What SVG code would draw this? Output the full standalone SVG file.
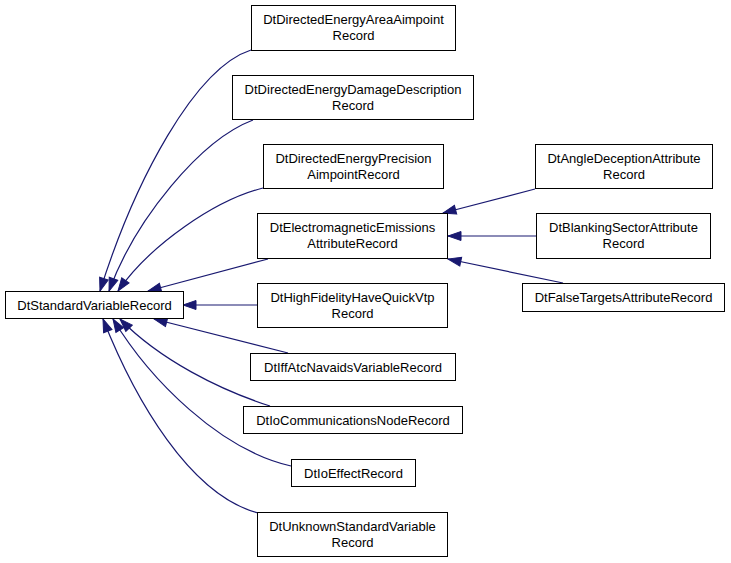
<svg xmlns="http://www.w3.org/2000/svg" width="731" height="563" viewBox="0 0 731 563">
<style>
.node rect{fill:#ffffff;stroke:#000000;stroke-width:1}
.node text{font-family:"Liberation Sans",Arial,Helvetica,sans-serif;font-size:13px;fill:#000000;text-anchor:middle}
.edge{fill:none;stroke:#191970;stroke-width:1.2;marker-end:url(#arr)}
</style>
<defs>
<marker id="arr" markerUnits="userSpaceOnUse" markerWidth="14" markerHeight="10" refX="13" refY="4.5" orient="auto" overflow="visible">
<path d="M0,0 L13,4.5 L0,9 z" fill="#191970" stroke="#191970" stroke-width="1"/>
</marker>
</defs>
<rect width="731" height="563" fill="#ffffff"/>
<g id="connectors">
<path class="edge" d="M251,50 C195,68 135,180 100,291"/>
<path class="edge" d="M253,120 C200,140 135,220 109,291"/>
<path class="edge" d="M263,188 C215,200 150,245 118,291"/>
<path class="edge" d="M268,259 L148,291"/>
<path class="edge" d="M258,305 L183,305"/>
<path class="edge" d="M288,353 L154,319"/>
<path class="edge" d="M270,406 C220,390 160,360 120,319"/>
<path class="edge" d="M291,466 C220,450 150,380 113,319"/>
<path class="edge" d="M258,513 C190,495 135,400 103,319"/>
<path class="edge" d="M535,189 L443,213"/>
<path class="edge" d="M537,236 L448,236"/>
<path class="edge" d="M563,283 L448,259"/>
</g>
<g id="DtStandardVariableRecord" class="node">
<rect x="5.5" y="291.5" width="178" height="27"/>
<text x="94.5" y="310">DtStandardVariableRecord</text>
</g>
<g id="DtDirectedEnergyAreaAimpointRecord" class="node">
<rect x="251.5" y="5.5" width="204" height="45"/>
<text x="353.5" y="24">DtDirectedEnergyAreaAimpoint</text>
<text x="353.5" y="39.5">Record</text>
</g>
<g id="DtDirectedEnergyDamageDescriptionRecord" class="node">
<rect x="232.5" y="75.5" width="241" height="44"/>
<text x="353" y="94">DtDirectedEnergyDamageDescription</text>
<text x="353" y="109.5">Record</text>
</g>
<g id="DtDirectedEnergyPrecisionAimpointRecord" class="node">
<rect x="263.5" y="144.5" width="180" height="44"/>
<text x="353.5" y="163">DtDirectedEnergyPrecision</text>
<text x="353.5" y="178.5">AimpointRecord</text>
</g>
<g id="DtElectromagneticEmissionsAttributeRecord" class="node">
<rect x="257.5" y="213.5" width="190" height="45"/>
<text x="352.5" y="232">DtElectromagneticEmissions</text>
<text x="352.5" y="247.5">AttributeRecord</text>
</g>
<g id="DtHighFidelityHaveQuickVtpRecord" class="node">
<rect x="257.5" y="283.5" width="190" height="44"/>
<text x="352.5" y="302">DtHighFidelityHaveQuickVtp</text>
<text x="352.5" y="317.5">Record</text>
</g>
<g id="DtIffAtcNavaidsVariableRecord" class="node">
<rect x="250.5" y="353.5" width="205" height="27"/>
<text x="353" y="372">DtIffAtcNavaidsVariableRecord</text>
</g>
<g id="DtIoCommunicationsNodeRecord" class="node">
<rect x="243.5" y="406.5" width="219" height="27"/>
<text x="353" y="425">DtIoCommunicationsNodeRecord</text>
</g>
<g id="DtIoEffectRecord" class="node">
<rect x="291.5" y="459.5" width="124" height="27"/>
<text x="353.5" y="478">DtIoEffectRecord</text>
</g>
<g id="DtUnknownStandardVariableRecord" class="node">
<rect x="257.5" y="512.5" width="190" height="44"/>
<text x="352.5" y="531">DtUnknownStandardVariable</text>
<text x="352.5" y="546.5">Record</text>
</g>
<g id="DtAngleDeceptionAttributeRecord" class="node">
<rect x="535.5" y="144.5" width="177" height="44"/>
<text x="624" y="163">DtAngleDeceptionAttribute</text>
<text x="624" y="178.5">Record</text>
</g>
<g id="DtBlankingSectorAttributeRecord" class="node">
<rect x="536.5" y="213.5" width="174" height="45"/>
<text x="623.5" y="232">DtBlankingSectorAttribute</text>
<text x="623.5" y="247.5">Record</text>
</g>
<g id="DtFalseTargetsAttributeRecord" class="node">
<rect x="522.5" y="283.5" width="202" height="28"/>
<text x="623.5" y="302">DtFalseTargetsAttributeRecord</text>
</g>
</svg>
